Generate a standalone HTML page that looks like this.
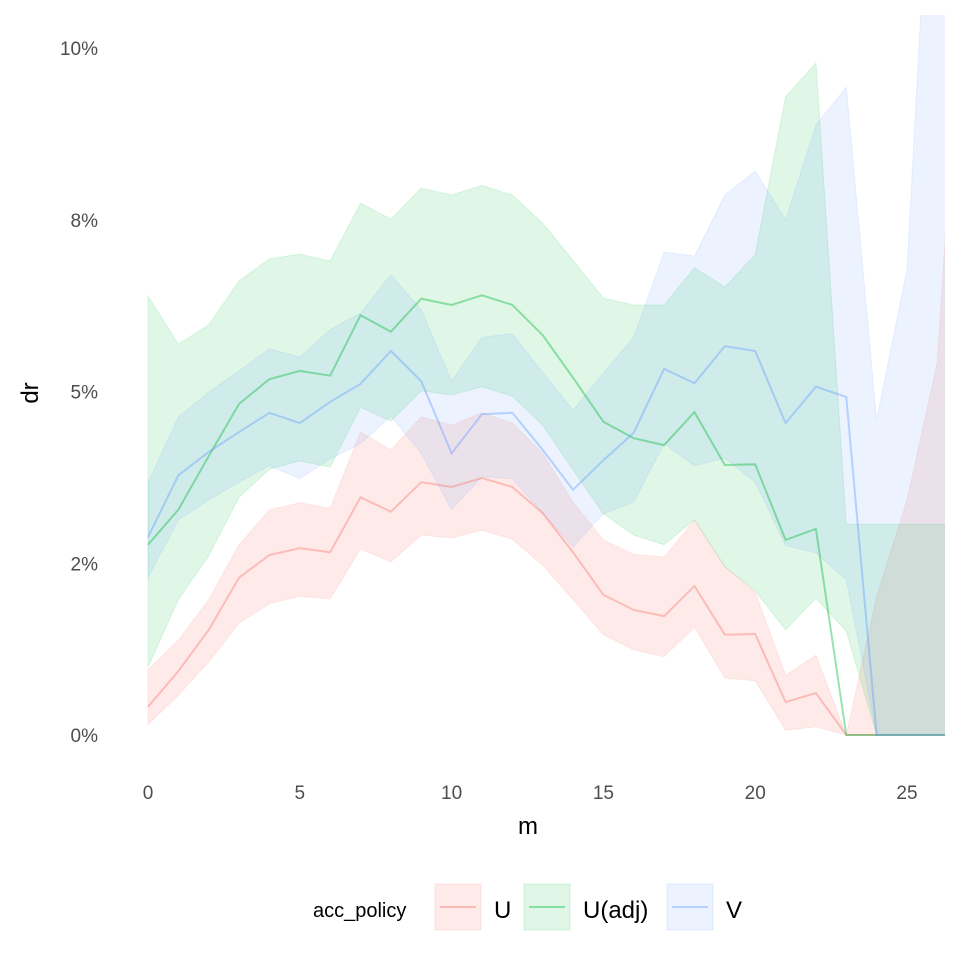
<!DOCTYPE html>
<html><head><meta charset="utf-8"><style>
body{margin:0;background:#fff;}
svg{display:block;font-family:"Liberation Sans",sans-serif;}
</style></head><body>
<svg id="chart" width="960" height="960" viewBox="0 0 960 960" xmlns="http://www.w3.org/2000/svg">
<defs><clipPath id="panel"><rect x="108" y="15" width="837" height="755"/></clipPath></defs>
<g id="plot" clip-path="url(#panel)"></g>
<g id="axes"></g>
<text transform="translate(38,393) rotate(-90)" text-anchor="middle" font-size="24" fill="#000">dr</text>
<text x="528" y="834" text-anchor="middle" font-size="24" fill="#000">m</text>
<g>
<text x="313" y="917" font-size="20" fill="#000">acc_policy</text>
<g>
<rect x="435" y="884" width="46" height="46" fill="#F8766D" fill-opacity="0.15" stroke="#F8766D" stroke-opacity="0.15"/>
<line x1="440" y1="907" x2="476" y2="907" stroke="#F8766D" stroke-opacity="0.4" stroke-width="2"/>
<text x="494" y="918" font-size="24" fill="#000">U</text></g>
<g>
<rect x="524" y="884" width="46" height="46" fill="#00BA38" fill-opacity="0.12" stroke="#00BA38" stroke-opacity="0.15"/>
<line x1="529" y1="907" x2="565" y2="907" stroke="#00BA38" stroke-opacity="0.4" stroke-width="2"/>
<text x="583" y="918" font-size="24" fill="#000">U(adj)</text></g>
<g>
<rect x="667" y="884" width="46" height="46" fill="#619CFF" fill-opacity="0.12" stroke="#619CFF" stroke-opacity="0.15"/>
<line x1="672" y1="907" x2="708" y2="907" stroke="#619CFF" stroke-opacity="0.4" stroke-width="2"/>
<text x="726" y="918" font-size="24" fill="#000">V</text></g>
</g>
</svg>
<script>
const mValues=[0,1,2,3,4,5,6,7,8,9,10,11,12,13,14,15,16,17,18,19,20,21,22,23,24,25,26,27];
const uMid=[0.41,0.93,1.53,2.29,2.62,2.72,2.66,3.46,3.25,3.68,3.61,3.74,3.61,3.23,2.66,2.04,1.82,1.73,2.17,1.46,1.47,0.48,0.61,0,0,0,0,0];
const uLow=[0.15,0.58,1.06,1.63,1.91,2.02,1.98,2.71,2.52,2.91,2.87,2.98,2.85,2.47,1.97,1.46,1.24,1.14,1.57,0.83,0.79,0.07,0.12,0,0,0,0,0];
const uHigh=[0.95,1.38,1.97,2.77,3.28,3.38,3.3,4.41,4.15,4.63,4.51,4.69,4.54,4.1,3.39,2.84,2.63,2.59,3.13,2.45,2.08,0.87,1.16,0,2.02,3.42,5.43,12.5];
const aMid=[2.77,3.28,4.06,4.82,5.18,5.3,5.23,6.11,5.87,6.35,6.26,6.4,6.26,5.82,5.2,4.56,4.32,4.22,4.7,3.93,3.94,2.84,3.0,0,0,0,0,0];
const aLow=[0.99,1.97,2.61,3.46,3.87,3.99,3.9,4.77,4.57,5.01,4.95,5.07,4.93,4.51,3.86,3.22,2.91,2.77,3.13,2.45,2.1,1.53,1.99,1.51,0,0,0,0];
const aHigh=[6.39,5.69,5.97,6.61,6.93,7.0,6.9,7.74,7.51,7.96,7.86,8.0,7.86,7.45,6.91,6.36,6.26,6.26,6.8,6.52,6.99,9.29,9.78,3.07,3.07,3.07,3.07,3.07];
const vMid=[2.88,3.78,4.12,4.41,4.69,4.54,4.85,5.11,5.59,5.15,4.1,4.67,4.69,4.15,3.57,4.0,4.4,5.33,5.12,5.66,5.59,4.54,5.07,4.92,0,0,0,0];
const vLow=[2.29,3.13,3.42,3.68,3.92,3.73,4.02,4.24,4.64,4.1,3.28,3.76,3.73,3.23,2.74,3.22,3.39,4.24,3.92,4.03,3.68,2.76,2.65,2.26,0,0,0,0];
const vHigh=[3.67,4.63,4.99,5.3,5.62,5.5,5.9,6.14,6.7,6.19,5.15,5.79,5.84,5.28,4.73,5.27,5.79,7.03,6.97,7.86,8.21,7.5,8.88,9.43,4.59,6.78,15,20];
const xTicks=[0,5,10,15,20,25];
const yTicks=[0,2.5,5,7.5,10];
const yTickLabels=["0%","2%","5%","8%","10%"];

const NS="http://www.w3.org/2000/svg";
const xs=m=>148+m*30.36;
const ys=v=>735-v*68.7;
const plot=document.getElementById('plot');
const axes=document.getElementById('axes');
function mk(tag,attrs,parent){const e=document.createElementNS(NS,tag);for(const k in attrs)e.setAttribute(k,attrs[k]);parent.appendChild(e);return e;}
const series=[
 {name:'u',color:'#F8766D',fo:0.15,mid:uMid,low:uLow,high:uHigh},
 {name:'u-adj',color:'#00BA38',fo:0.12,mid:aMid,low:aLow,high:aHigh},
 {name:'v',color:'#619CFF',fo:0.12,mid:vMid,low:vLow,high:vHigh}
];
series.forEach(s=>{
  let pts=mValues.map((m,i)=>xs(m)+','+ys(s.high[i]));
  for(let i=mValues.length-1;i>=0;i--)pts.push(xs(mValues[i])+','+ys(s.low[i]));
  const band=mk('polygon',{points:pts.join(' '),fill:s.color,'fill-opacity':s.fo,stroke:s.color,'stroke-opacity':0.12,'stroke-width':1},plot);
  
  
});
series.forEach(s=>{
  const line=mk('polyline',{points:mValues.map((m,i)=>xs(m)+','+ys(s.mid[i])).join(' '),fill:'none',stroke:s.color,'stroke-opacity':0.4,'stroke-width':2},plot);
  
  
});
xTicks.forEach(t=>{
  const tx=mk('text',{x:xs(t),y:799,'text-anchor':'middle','font-size':19,fill:'#4d4d4d'},axes);
  tx.textContent=t;
  
  
});
yTicks.forEach((t,i)=>{
  const ty=mk('text',{x:98,y:ys(t)+7,'text-anchor':'end','font-size':19,fill:'#4d4d4d'},axes);
  ty.textContent=yTickLabels[i];
  
  
});
</script>
</body></html>
